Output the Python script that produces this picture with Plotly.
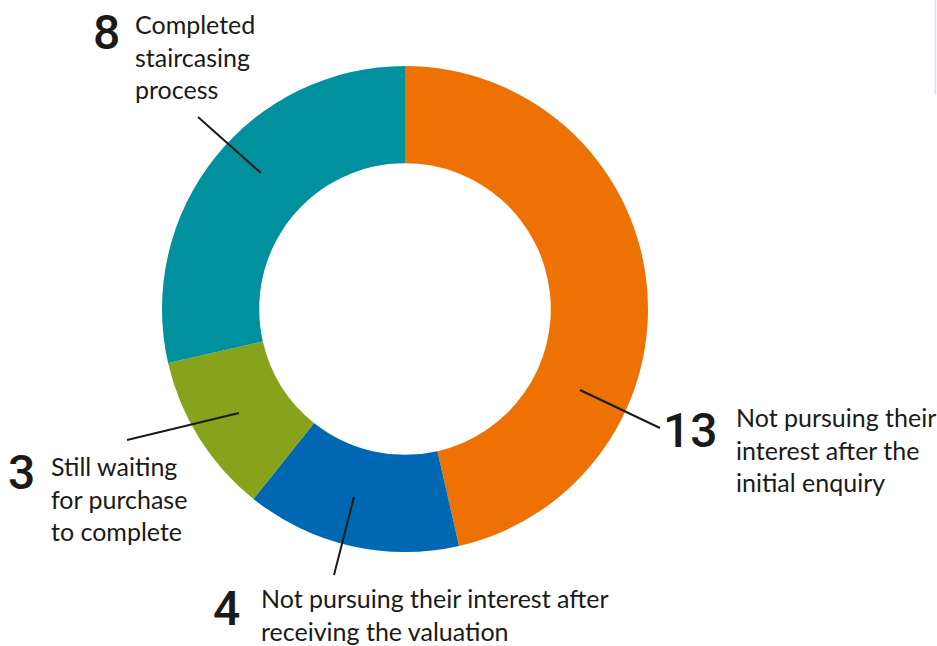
import plotly.graph_objects as go

# ---- data ----
categories = [
    "Not pursuing their interest after the initial enquiry",
    "Not pursuing their interest after receiving the valuation",
    "Still waiting for purchase to complete",
    "Completed staircasing process",
]
values = [13, 4, 3, 8]
label_texts = [
    "Not pursuing their<br>interest after the<br>initial enquiry",
    "Not pursuing their interest after<br>receiving the valuation",
    "Still waiting<br>for purchase<br>to complete",
    "Completed<br>staircasing<br>process",
]
colors = ["#EE7203", "#0068B3", "#87A31B", "#00909E"]

W, H = 937, 646

# label layout (pixel positions): number right edge/center, text left/center, leader line
label_layout = [
    dict(num=(720, 430), txt=(734, 449), line=((580, 390), (660, 428))),
    dict(num=(242, 608), txt=(259, 614), line=((354, 497), (334, 575))),
    dict(num=(37, 472), txt=(49, 498), line=((239, 413), (127, 440))),
    dict(num=(122, 32), txt=(133, 56), line=((261, 173), (198, 117))),
]

cx, cy, R = 405, 309, 243


def px(x):
    return x / W


def py(y):
    return 1 - y / H


fig = go.Figure(
    go.Pie(
        labels=categories,
        values=values,
        hole=0.60,
        sort=False,
        direction="clockwise",
        rotation=0,
        marker=dict(colors=colors, line=dict(width=0)),
        textinfo="none",
        hoverinfo="label+value",
        domain=dict(x=[px(cx - R), px(cx + R)], y=[py(cy + R), py(cy - R)]),
        showlegend=False,
    )
)

annotations = []
shapes = []
font_family = "Lato, 'Noto Sans', sans-serif"
for v, t, lay in zip(values, label_texts, label_layout):
    nx, ny = lay["num"]
    tx, ty = lay["txt"]
    annotations.append(dict(
        x=px(nx), y=py(ny), xref="paper", yref="paper", text=str(v),
        showarrow=False, xanchor="right", yanchor="middle",
        font=dict(family="Roboto, Lato, sans-serif", size=48, color="#1a1a1a", weight=500),
    ))
    annotations.append(dict(
        x=px(tx), y=py(ty), xref="paper", yref="paper", text=t,
        showarrow=False, xanchor="left", yanchor="middle", align="left",
        font=dict(family=font_family, size=25, color="#1a1a1a"),
    ))
    (x0, y0), (x1, y1) = lay["line"]
    shapes.append(dict(type="line", xref="paper", yref="paper",
                       x0=px(x0), y0=py(y0), x1=px(x1), y1=py(y1),
                       line=dict(color="#1a1a1a", width=2)))

# faint vertical rule at the right edge
shapes.append(dict(type="line", xref="paper", yref="paper",
                   x0=px(935.5), y0=1, x1=px(935.5), y1=py(95),
                   line=dict(color="#E3DAEE", width=1.5)))

fig.update_layout(
    width=W, height=H,
    margin=dict(l=0, r=0, t=0, b=0),
    paper_bgcolor="white", plot_bgcolor="white",
    annotations=annotations, shapes=shapes,
)

fig.write_html("out.html")
